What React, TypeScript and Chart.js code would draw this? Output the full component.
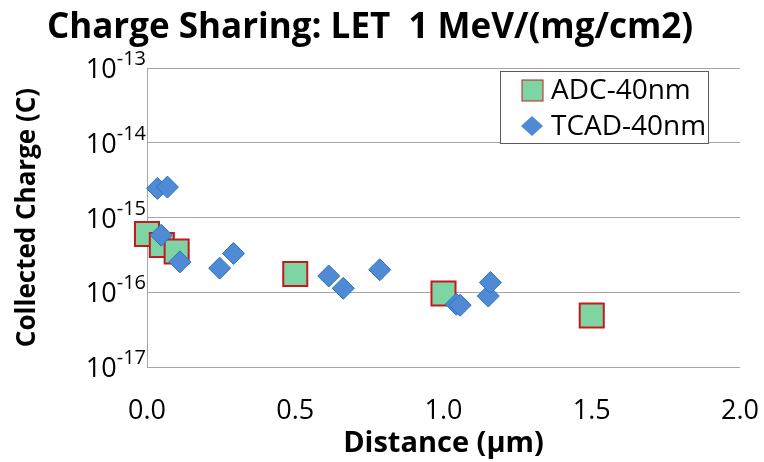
import React, { useEffect, useRef } from 'react';
import { Chart, registerables } from 'chart.js';

Chart.register(...registerables);

// ADC-40nm measurements: distance (µm) and collected charge (C)
const adcDistance = [0.0, 0.05, 0.1, 0.5, 1.0, 1.5];
const adcCharge = [6.0e-16, 4.3e-16, 3.5e-16, 1.75e-16, 9.6e-17, 4.9e-17];

// TCAD-40nm simulation points
const tcadDistance = [0.035, 0.069, 0.048, 0.111, 0.245, 0.292, 0.613, 0.662, 0.785, 1.043, 1.056, 1.151, 1.158];
const tcadCharge = [2.45e-15, 2.55e-15, 5.8e-16, 2.55e-16, 2.1e-16, 3.3e-16, 1.65e-16, 1.13e-16, 2.0e-16, 6.9e-17, 6.7e-17, 8.9e-17, 1.35e-16];

const seriesNames = ['ADC-40nm', 'TCAD-40nm'];
const xTickValues = [0, 0.5, 1.0, 1.5, 2.0];
const yExponents = [-17, -16, -15, -14, -13];

const titleText = 'Charge Sharing: LET  1 MeV/(mg/cm2)';
const xTitle = 'Distance (\u03bcm)';
const yTitle = 'Collected Charge (C)';

const FONT = '"Open Sans", Lato, sans-serif';
const ADC_FILL = '#7fd4a3';
const ADC_BORDER = '#c41a1e';
const TCAD_FILL = '#4f8ad4';
const TCAD_BORDER = '#2c72c2';
const GRID = '#a6a6a6';

// Power-of-ten tick labels with a raised exponent
const powerTickPlugin = {
  id: 'powerTicks',
  afterDraw(chart: any) {
    const { ctx, chartArea } = chart;
    const y = chart.scales.y;
    ctx.save();
    ctx.fillStyle = '#000';
    ctx.textBaseline = 'alphabetic';
    ctx.textAlign = 'left';
    for (const e of yExponents) {
      const py = y.getPixelForValue(Math.pow(10, e));
      const sup = String(e);
      ctx.font = `20px ${FONT}`;
      const ws = ctx.measureText(sup).width;
      ctx.font = `27px ${FONT}`;
      const wb = ctx.measureText('10').width;
      const right = chartArea.left - 1;
      ctx.fillText('10', right - ws - wb, py + 10);
      ctx.font = `20px ${FONT}`;
      ctx.fillText(sup, right - ws, py - 3);
    }
    ctx.restore();
  },
};

// Boxed legend inside the upper right of the plot
const boxLegendPlugin = {
  id: 'boxLegend',
  afterDraw(chart: any) {
    const { ctx, chartArea } = chart;
    const w = 208;
    const h = 72;
    const left = chartArea.right - 240;
    const top = chartArea.top + 3;
    ctx.save();
    ctx.fillStyle = '#fff';
    ctx.fillRect(left, top, w, h);
    ctx.strokeStyle = '#5a5a5a';
    ctx.lineWidth = 1;
    ctx.strokeRect(left + 0.5, top + 0.5, w, h);

    const mx = left + 32;
    const row1 = top + 19;
    const row2 = top + 55;
    // square marker
    ctx.fillStyle = ADC_FILL;
    ctx.fillRect(mx - 10, row1 - 10, 21, 21);
    ctx.strokeStyle = ADC_BORDER;
    ctx.lineWidth = 1;
    ctx.strokeRect(mx - 10, row1 - 10, 21, 21);
    // diamond marker
    ctx.beginPath();
    ctx.moveTo(mx, row2 - 10);
    ctx.lineTo(mx + 11, row2);
    ctx.lineTo(mx, row2 + 10);
    ctx.lineTo(mx - 11, row2);
    ctx.closePath();
    ctx.fillStyle = TCAD_FILL;
    ctx.fill();

    ctx.fillStyle = '#000';
    ctx.font = `28px ${FONT}`;
    ctx.textBaseline = 'middle';
    ctx.textAlign = 'left';
    ctx.fillText(seriesNames[0], left + 51, row1 + 1);
    ctx.fillText(seriesNames[1], left + 51, row2 + 1);
    ctx.restore();
  },
};

export default function App() {
  const canvasRef = useRef<HTMLCanvasElement | null>(null);

  useEffect(() => {
    const canvas = canvasRef.current;
    if (!canvas) return;
    const chart = new Chart(canvas, {
      type: 'scatter',
      data: {
        datasets: [
          {
            label: seriesNames[0],
            data: adcDistance.map((d, i) => ({ x: d, y: adcCharge[i] })),
            pointStyle: 'rect',
            pointRadius: 17,
            backgroundColor: ADC_FILL,
            borderColor: ADC_BORDER,
            borderWidth: 2,
            clip: false,
            order: 1,
          },
          {
            label: seriesNames[1],
            data: tcadDistance.map((d, i) => ({ x: d, y: tcadCharge[i] })),
            pointStyle: 'rectRot',
            pointRadius: 11,
            backgroundColor: TCAD_FILL,
            borderColor: TCAD_BORDER,
            borderWidth: 1,
            clip: false,
            order: 0,
          },
        ],
      },
      options: {
        animation: false,
        responsive: false,
        layout: { padding: { left: 0, right: 24, top: 0, bottom: 0 } },
        plugins: {
          legend: { display: false },
          tooltip: { enabled: false },
          title: {
            display: true,
            text: titleText,
            color: '#000',
            font: { family: FONT, size: 35, weight: 'bold' },
            padding: { top: 7, bottom: 19 },
          },
        },
        scales: {
          x: {
            type: 'linear',
            min: 0,
            max: 2,
            afterBuildTicks: (scale: any) => {
              scale.ticks = xTickValues.map((v) => ({ value: v }));
            },
            afterFit: (scale: any) => {
              scale.height = 95;
              scale.paddingLeft = 0;
              scale.paddingRight = 0;
            },
            ticks: {
              color: '#000',
              font: { family: FONT, size: 27 },
              padding: 28,
              callback: (v: any) => Number(v).toFixed(1),
            },
            grid: { display: false, drawTicks: false },
            border: { display: false },
            title: {
              display: true,
              text: xTitle,
              color: '#000',
              font: { family: FONT, size: 29, weight: 'bold' },
              padding: { top: 0, bottom: 1 },
            },
          },
          y: {
            type: 'logarithmic',
            min: 1e-17,
            max: 1e-13,
            afterBuildTicks: (scale: any) => {
              scale.ticks = yExponents.map((e) => ({ value: Math.pow(10, e) }));
            },
            afterFit: (scale: any) => {
              scale.width = 147;
            },
            ticks: { display: false },
            grid: { color: GRID, lineWidth: 1, drawTicks: false },
            border: { display: true, color: GRID, width: 1 },
            title: {
              display: true,
              text: yTitle,
              color: '#000',
              font: { family: FONT, size: 26, weight: 'bold' },
              padding: { top: 12, bottom: 0 },
            },
          },
        },
      },
      plugins: [powerTickPlugin, boxLegendPlugin],
    });
    return () => chart.destroy();
  }, []);

  return (
    <div style={{ position: 'absolute', left: 0, top: 0, width: 764, height: 462, background: '#fff' }}>
      <canvas ref={canvasRef} width={764} height={462} style={{ width: 764, height: 462 }} />
    </div>
  );
}
